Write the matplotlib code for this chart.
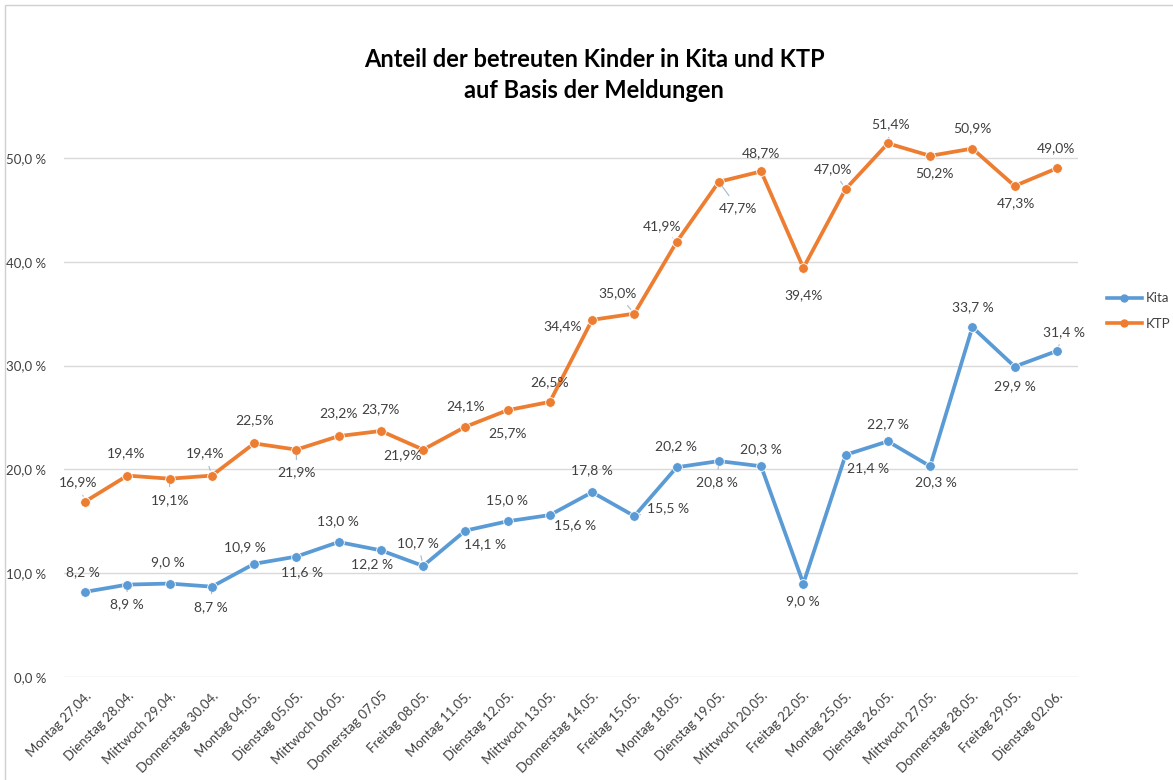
import matplotlib
matplotlib.use("Agg")
import matplotlib.pyplot as plt
from matplotlib.lines import Line2D
from matplotlib.patches import Rectangle

# ---- data ----
categories = ["Montag 27.04.", "Dienstag 28.04.", "Mittwoch 29.04.", "Donnerstag 30.04.",
              "Montag 04.05.", "Dienstag 05.05.", "Mittwoch 06.05.", "Donnerstag 07.05",
              "Freitag 08.05.", "Montag 11.05.", "Dienstag 12.05.", "Mittwoch 13.05.",
              "Donnerstag 14.05.", "Freitag 15.05.", "Montag 18.05.", "Dienstag 19.05.",
              "Mittwoch 20.05.", "Freitag 22.05.", "Montag 25.05.", "Dienstag 26.05.",
              "Mittwoch 27.05.", "Donnerstag 28.05.", "Freitag 29.05.", "Dienstag 02.06."]
kita = [8.2, 8.9, 9.0, 8.7, 10.9, 11.6, 13.0, 12.2, 10.7, 14.1, 15.0, 15.6,
        17.8, 15.5, 20.2, 20.8, 20.3, 9.0, 21.4, 22.7, 20.3, 33.7, 29.9, 31.4]
ktp = [16.9, 19.4, 19.1, 19.4, 22.5, 21.9, 23.2, 23.7, 21.9, 24.1, 25.7, 26.5,
       34.4, 35.0, 41.9, 47.7, 48.7, 39.4, 47.0, 51.4, 50.2, 50.9, 47.3, 49.0]
yticks = [0, 10, 20, 30, 40, 50]
title = "Anteil der betreuten Kinder in Kita und KTP\nauf Basis der Meldungen"

# label offsets in pixels (dx, dy with +dy = up), and whether a leader line is drawn
ktp_off = [(-7, 19), (-1, 22), (0, -21), (-7, 22), (0, 23), (0, -23), (0, 23), (0, 22),
           (-21, -6), (0, 21), (0, -23), (0, 20), (-30, -6), (-17, 20), (-15, 16), (19, -26),
           (0, 18), (0, -27), (-13, 20), (3, 19), (4, -17), (0, 20), (1, -17), (-1, 20)]
ktp_lead = [1, 0, 1, 1, 0, 1, 0, 0, 0, 0, 0, 0, 0, 1, 1, 1, 0, 0, 1, 1, 0, 0, 0, 0]
kita_off = [(-2, 20), (-1, -20), (-2, 21), (-1, -20), (-9, 17), (6, -16), (-1, 21), (-9, -14),
            (-5, 23), (20, -14), (-1, 21), (25, -10), (0, 22), (34, 8), (-1, 21), (-2, -21),
            (0, 17), (0, -18), (22, -13), (0, 17), (6, -16), (0, 20), (0, -20), (7, 19)]
kita_lead = [0, 1, 0, 1, 0, 0, 0, 0, 1, 0, 0, 0, 0, 1, 0, 1, 0, 0, 0, 0, 0, 0, 0, 1]

BLUE = "#5B9BD5"
ORANGE = "#ED7D31"
GRID = "#D9D9D9"
TXT = "#595959"
FONT = ["Lato", "DejaVu Sans"]

plt.rcParams["font.family"] = FONT

DPI = 100
fig = plt.figure(figsize=(11.73, 7.8), dpi=DPI)
W, H = 1173, 780
ax = fig.add_axes([64 / W, 1 - 677 / H, (1078 - 64) / W, (677 - 106) / H])

x = list(range(len(categories)))
ax.plot(x, kita, color=BLUE, lw=2.7, marker="o", ms=7, mfc=BLUE, mec="white", mew=0.6,
        label="Kita", zorder=3, solid_joinstyle="round")
ax.plot(x, ktp, color=ORANGE, lw=2.7, marker="o", ms=7, mfc=ORANGE, mec="white", mew=0.6,
        label="KTP", zorder=3, solid_joinstyle="round")

ax.set_xlim(-0.5, len(categories) - 0.5)
ax.set_ylim(0, 55)
ax.set_yticks(yticks)
ax.set_yticklabels([f"{v:.1f} %".replace(".", ",") for v in yticks])
ax.set_xticks(x)
ax.set_xticklabels(categories, rotation=45, ha="right", rotation_mode="anchor")
ax.tick_params(axis="both", length=0, colors="#404040", labelsize=9.5)
ax.tick_params(axis="y", pad=13)
ax.tick_params(axis="x", pad=9)
for s in ax.spines.values():
    s.set_visible(False)
ax.grid(axis="y", color=GRID, lw=1.0, zorder=0)
ax.set_axisbelow(True)

pt = 72.0 / DPI
def labels(vals, offs, leads, fmt):
    for i, (v, (dx, dy), ld) in enumerate(zip(vals, offs, leads)):
        txt = fmt(v)
        ap = None
        if ld:
            ap = dict(arrowstyle="-", color="#A6B8CC", lw=0.8, shrinkA=3, shrinkB=4)
        ax.annotate(txt, xy=(i, v), xytext=(dx * pt, dy * pt), textcoords="offset points",
                    ha="center", va="center", fontsize=10, color="#404040",
                    arrowprops=ap, zorder=4)

labels(ktp, ktp_off, ktp_lead, lambda v: f"{v:.1f}%".replace(".", ","))
labels(kita, kita_off, kita_lead, lambda v: f"{v:.1f} %".replace(".", ","))

fig.text(594 / W, 1 - 75 / H, title, ha="center", va="center", fontsize=17,
         fontweight="bold", color="black", linespacing=1.45)

handles = [Line2D([], [], color=BLUE, lw=2.6, marker="o", ms=5, mfc=BLUE, mec=BLUE),
           Line2D([], [], color=ORANGE, lw=2.6, marker="o", ms=5, mfc=ORANGE, mec=ORANGE)]
fig.legend(handles, ["Kita", "KTP"], loc="center left",
           bbox_to_anchor=(1100 / W, 1 - 311 / H), frameon=False, fontsize=9.5,
           handlelength=2.7, handletextpad=0.25, labelspacing=1.0, borderpad=0,
           labelcolor="#404040")

# chart-area border (top-left edges visible in screenshot)
fig.add_artist(Rectangle((5 / W, -0.1), 1.2, 1.1 - 5 / H, transform=fig.transFigure,
                         fill=False, ec="#D0D0D0", lw=1.0))

fig.savefig("out.png", dpi=DPI, facecolor="white")
